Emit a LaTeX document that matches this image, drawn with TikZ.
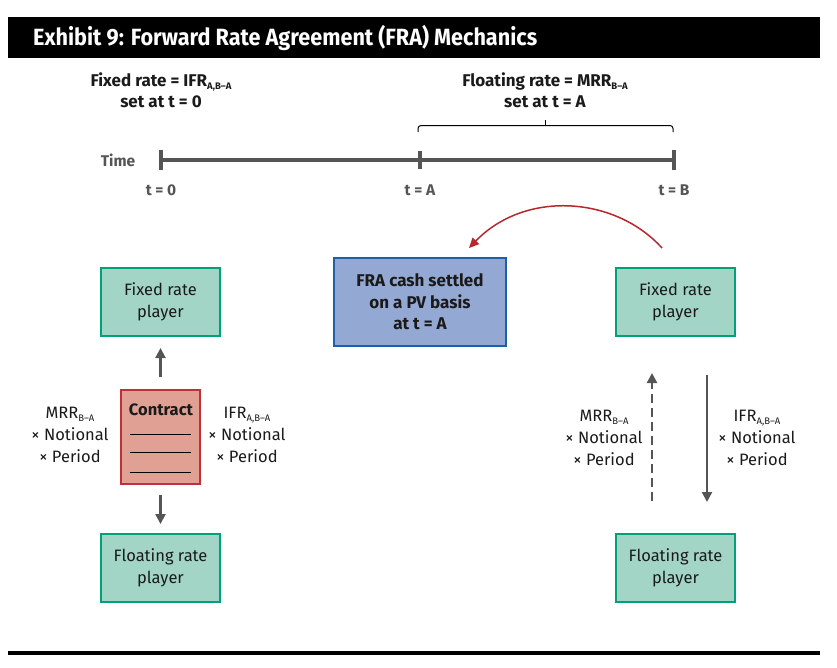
\documentclass[tikz,border=0pt]{standalone}
\usepackage{fontspec}
\setmainfont{Fira Sans}
\newfontfamily\titlefont[FakeStretch=0.92]{Fira Sans}
\usetikzlibrary{arrows.meta}
\definecolor{gfill}{HTML}{A2D5C6}
\definecolor{gline}{HTML}{00A07A}
\definecolor{rfill}{HTML}{E0A094}
\definecolor{rline}{HTML}{C0303A}
\definecolor{bfill}{HTML}{94A8D4}
\definecolor{bline}{HTML}{1F5FA8}
\definecolor{axis}{HTML}{555555}
\definecolor{txt}{HTML}{1A1A1A}
\definecolor{curve}{HTML}{B5282E}
\newcommand{\sbs}[1]{\raisebox{-0.35ex}{\fontsize{9.5}{10}\selectfont #1}}
\tikzset{
  player/.style={draw=gline, fill=gfill, line width=1.6pt, minimum width=119pt, minimum height=68pt, align=center, font=\fontsize{16.5}{21.5}\selectfont, text=txt, inner sep=0pt},
  lbl/.style={align=center, font=\fontsize{16.5}{22}\selectfont, text=txt, inner sep=0pt},
  toplbl/.style={align=center, font=\bfseries\fontsize{17}{21}\selectfont, text=txt, inner sep=0pt},
  tlbl/.style={font=\bfseries\fontsize{15.5}{17}\selectfont, text=axis, inner sep=0pt},
  flow/.style={draw=axis, line width=2.2pt, -{Triangle[length=10pt,width=10pt]}},
}
\begin{document}
\begin{tikzpicture}[x=1pt,y=-1pt]
\useasboundingbox (0,0) rectangle (837,667);
% title
\fill[black] (8,17) rectangle (820,58);
\node[anchor=west, text=white, font=\titlefont\bfseries\fontsize{23.5}{26}\selectfont, inner sep=0pt] (title) at (33,38) {Exhibit 9: Forward Rate Agreement (FRA) Mechanics};
\fill[black] (8,651) rectangle (820,655);
% top labels
\node[toplbl] (fixlbl) at (161,90) {Fixed rate = IFR\sbs{A,B--A}\\set at t = 0};
\node[toplbl] (flolbl) at (545,90) {Floating rate = MRR\sbs{B--A}\\set at t = A};
% brace
\draw[line width=1pt, rounded corners=3pt] (418,132) -- (418,125.5) -- (673,125.5) -- (673,132);
\draw[line width=1pt] (545,125.5) -- (545,120);
% timeline
\coordinate (t0) at (161,160);
\coordinate (tA) at (420,160);
\coordinate (tB) at (674,160);
\draw[axis, line width=3.5pt] (t0) -- (tB);
\draw[axis, line width=3.5pt] (161,150) -- (161,170) (420,151) -- (420,169) (674,150) -- (674,170);
\node[tlbl] (time) at (118,160) {Time};
\node[tlbl] (l0) at (161,190) {t = 0};
\node[tlbl] (lA) at (420,190) {t = A};
\node[tlbl] (lB) at (674,190) {t = B};
% left side
\node[player] (fixL) at (160.5,302) {Fixed rate\\player};
\node[player] (floL) at (160.5,568) {Floating rate\\player};
\node[draw=rline, fill=rfill, line width=1.6pt, minimum width=79pt, minimum height=94pt, inner sep=0pt] (contract) at (160.5,437) {};
\node[font=\bfseries\fontsize{16.5}{18}\selectfont, text=txt, inner sep=0pt] (ctitle) at (161,410) {Contract};
\draw[line width=0.8pt] (130,434) -- (191,434) (130,452) -- (191,452) (130,472) -- (191,472);
\draw[flow] (contract.north) ++(0,-12) -- (160.5,348);
\draw[flow] (160.5,495) -- (160.5,524);
\node[lbl] (mrrL) at (70,435) {MRR\sbs{B--A}\\× Notional\\× Period};
\node[lbl] (ifrL) at (247,435) {IFR\sbs{A,B--A}\\× Notional\\× Period};
% center box
\node[draw=bline, fill=bfill, line width=1.8pt, minimum width=172pt, minimum height=88pt, align=center, font=\bfseries\fontsize{17}{21.5}\selectfont, text=txt, inner sep=0pt] (fra) at (420,302) {FRA cash settled\\on a PV basis\\at t = A};
% right side
\node[player] (fixR) at (675.5,302) {Fixed rate\\player};
\node[player] (floR) at (675.5,568) {Floating rate\\player};
\coordinate (dashS) at (652,501);
\coordinate (dashE) at (652,373);
\coordinate (solS) at (707,375);
\coordinate (solE) at (707,502);
\draw[flow, dash pattern=on 9pt off 5pt] (dashS) -- (dashE);
\draw[flow] (solS) -- (solE);
\node[lbl] (mrrR) at (604,438) {MRR\sbs{B--A}\\× Notional\\× Period};
\node[lbl] (ifrR) at (757,438) {IFR\sbs{A,B--A}\\× Notional\\× Period};
% red curve
\coordinate (cS) at (662,248);
\coordinate (cE) at (469,248);
\draw[curve, line width=1.5pt, -{Triangle[length=10pt,width=9pt]}] (cS) .. controls (615,196) and (525,190) .. (cE);
\end{tikzpicture}
\end{document}
